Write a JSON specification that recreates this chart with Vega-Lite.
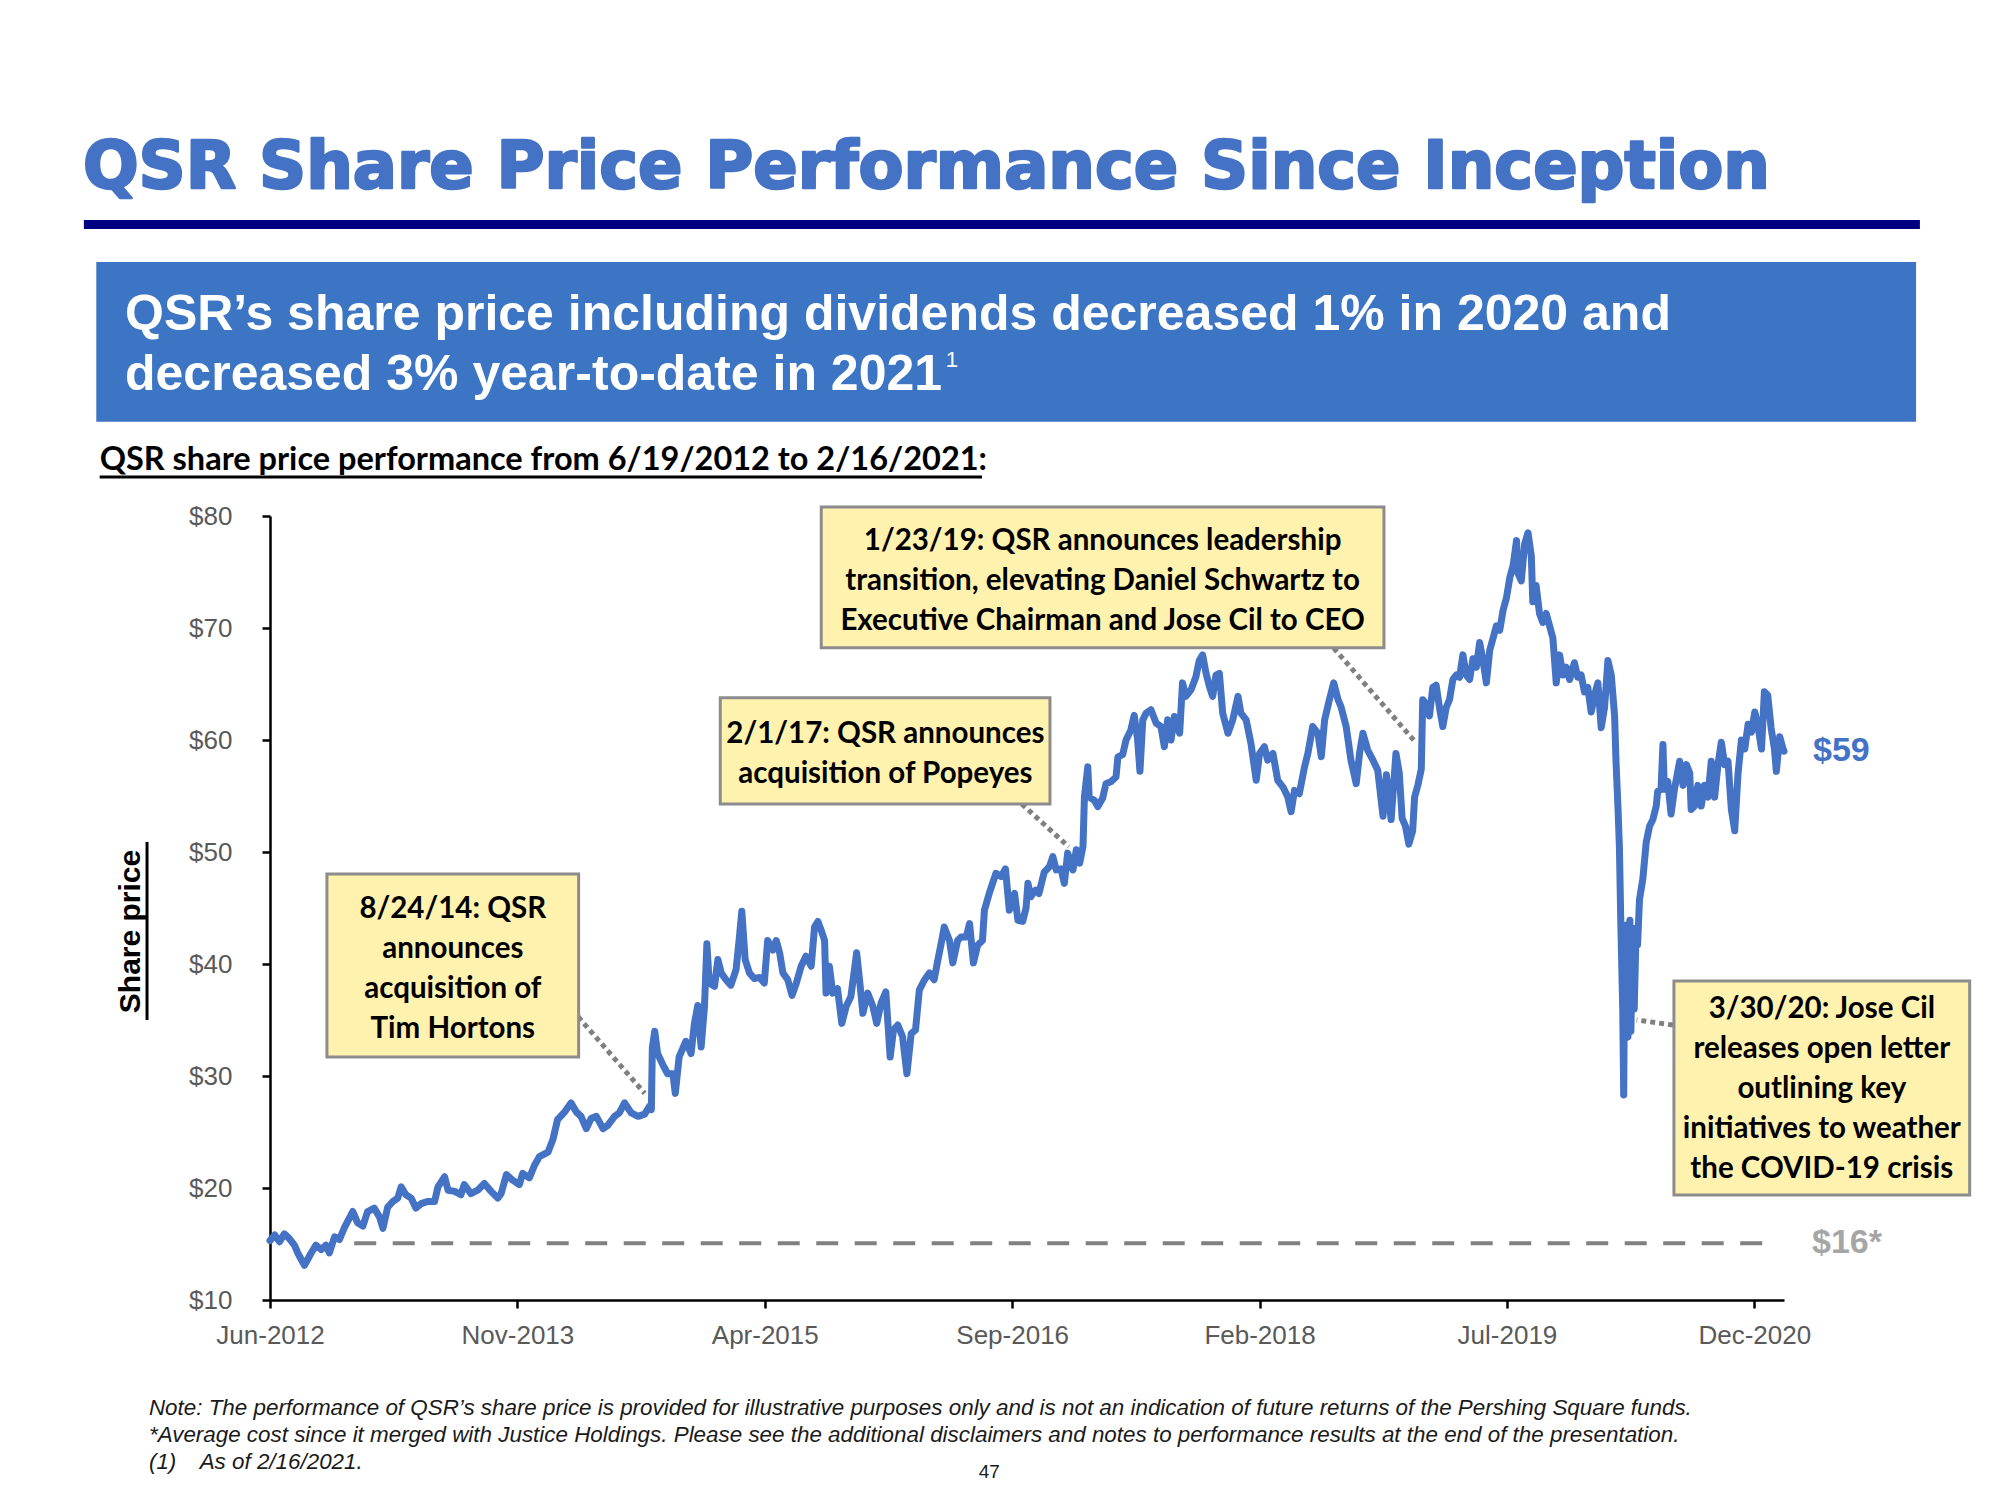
{
  "$schema": "https://vega.github.io/schema/vega-lite/v6.json",
  "width": 1514,
  "height": 784,
  "autosize": {"type": "none"},
  "padding": {"left": 270, "top": 516, "right": 216, "bottom": 200},
  "background": "white",
  "config": {"view": {"stroke": null}},
  "datasets": {
    "prices": [
      {"date": "2012-06-19", "price": 15.3}, {"date": "2012-06-29", "price": 15.8}, {"date": "2012-07-09", "price": 15.2}, {"date": "2012-07-19", "price": 15.9}, {"date": "2012-07-29", "price": 15.5}, {"date": "2012-08-09", "price": 14.9}, {"date": "2012-08-16", "price": 14.2}, {"date": "2012-08-30", "price": 13.1}, {"date": "2012-09-13", "price": 14.2}, {"date": "2012-09-23", "price": 14.9}, {"date": "2012-10-04", "price": 14.5}, {"date": "2012-10-14", "price": 14.9}, {"date": "2012-10-21", "price": 14.2}, {"date": "2012-11-01", "price": 15.65}, {"date": "2012-11-11", "price": 15.4}, {"date": "2012-11-22", "price": 16.5}, {"date": "2012-12-09", "price": 17.9}, {"date": "2012-12-19", "price": 16.9}, {"date": "2012-12-30", "price": 16.6},
      {"date": "2013-01-09", "price": 17.9}, {"date": "2013-01-23", "price": 18.2}, {"date": "2013-02-03", "price": 17.4}, {"date": "2013-02-10", "price": 16.4}, {"date": "2013-02-20", "price": 18.3}, {"date": "2013-03-03", "price": 18.8}, {"date": "2013-03-13", "price": 19.1}, {"date": "2013-03-20", "price": 20.1}, {"date": "2013-03-30", "price": 19.4}, {"date": "2013-04-10", "price": 19.1}, {"date": "2013-04-20", "price": 18.2}, {"date": "2013-05-01", "price": 18.6}, {"date": "2013-05-15", "price": 18.8}, {"date": "2013-05-29", "price": 18.8}, {"date": "2013-06-05", "price": 20.1}, {"date": "2013-06-19", "price": 21.0}, {"date": "2013-06-26", "price": 19.8}, {"date": "2013-07-10", "price": 19.7}, {"date": "2013-07-23", "price": 19.4}, {"date": "2013-07-30", "price": 20.3}, {"date": "2013-08-13", "price": 19.5}, {"date": "2013-08-27", "price": 19.8}, {"date": "2013-09-10", "price": 20.4}, {"date": "2013-09-24", "price": 19.7}, {"date": "2013-10-08", "price": 19.1}, {"date": "2013-10-15", "price": 19.5}, {"date": "2013-10-26", "price": 21.2}, {"date": "2013-11-08", "price": 20.7}, {"date": "2013-11-22", "price": 20.3}, {"date": "2013-11-29", "price": 21.3}, {"date": "2013-12-13", "price": 20.9}, {"date": "2013-12-24", "price": 22.05},
      {"date": "2014-01-03", "price": 22.8}, {"date": "2014-01-21", "price": 23.2}, {"date": "2014-01-31", "price": 24.3}, {"date": "2014-02-10", "price": 26.1}, {"date": "2014-02-25", "price": 26.8}, {"date": "2014-03-10", "price": 27.6}, {"date": "2014-03-21", "price": 26.8}, {"date": "2014-03-31", "price": 26.4}, {"date": "2014-04-11", "price": 25.3}, {"date": "2014-04-21", "price": 26.2}, {"date": "2014-05-02", "price": 26.4}, {"date": "2014-05-16", "price": 25.3}, {"date": "2014-05-26", "price": 25.6}, {"date": "2014-06-09", "price": 26.4}, {"date": "2014-06-19", "price": 26.7}, {"date": "2014-06-30", "price": 27.6}, {"date": "2014-07-14", "price": 26.7}, {"date": "2014-07-28", "price": 26.4}, {"date": "2014-08-11", "price": 26.6}, {"date": "2014-08-21", "price": 27.3}, {"date": "2014-08-25", "price": 27.0}, {"date": "2014-08-27", "price": 32.5}, {"date": "2014-09-01", "price": 34.0}, {"date": "2014-09-07", "price": 32.0}, {"date": "2014-09-18", "price": 31.0}, {"date": "2014-09-28", "price": 30.2}, {"date": "2014-10-09", "price": 30.2}, {"date": "2014-10-14", "price": 28.45}, {"date": "2014-10-22", "price": 31.7}, {"date": "2014-11-05", "price": 33.1}, {"date": "2014-11-16", "price": 32.0}, {"date": "2014-11-23", "price": 34.7}, {"date": "2014-11-30", "price": 36.3}, {"date": "2014-12-07", "price": 32.6}, {"date": "2014-12-14", "price": 36.2}, {"date": "2014-12-19", "price": 41.8}, {"date": "2014-12-24", "price": 38.3},
      {"date": "2015-01-04", "price": 38.0}, {"date": "2015-01-11", "price": 40.4}, {"date": "2015-01-18", "price": 39.2}, {"date": "2015-01-28", "price": 38.6}, {"date": "2015-02-07", "price": 38.1}, {"date": "2015-02-18", "price": 39.5}, {"date": "2015-02-25", "price": 42.4}, {"date": "2015-03-02", "price": 44.7}, {"date": "2015-03-09", "price": 40.4}, {"date": "2015-03-18", "price": 39.2}, {"date": "2015-03-28", "price": 38.7}, {"date": "2015-04-08", "price": 38.8}, {"date": "2015-04-18", "price": 38.3}, {"date": "2015-04-25", "price": 42.1}, {"date": "2015-05-06", "price": 41.25}, {"date": "2015-05-13", "price": 42.1}, {"date": "2015-05-20", "price": 41.0}, {"date": "2015-05-27", "price": 39.2}, {"date": "2015-06-06", "price": 38.6}, {"date": "2015-06-15", "price": 37.2}, {"date": "2015-06-24", "price": 38.3}, {"date": "2015-07-04", "price": 39.8}, {"date": "2015-07-14", "price": 40.7}, {"date": "2015-07-25", "price": 39.8}, {"date": "2015-08-01", "price": 43.3}, {"date": "2015-08-08", "price": 43.8}, {"date": "2015-08-15", "price": 43.0}, {"date": "2015-08-22", "price": 42.1}, {"date": "2015-08-25", "price": 37.4}, {"date": "2015-09-01", "price": 39.8}, {"date": "2015-09-08", "price": 37.4}, {"date": "2015-09-18", "price": 37.8}, {"date": "2015-09-27", "price": 34.7}, {"date": "2015-10-06", "price": 36.2}, {"date": "2015-10-16", "price": 37.1}, {"date": "2015-10-28", "price": 41.0}, {"date": "2015-11-03", "price": 38.6}, {"date": "2015-11-10", "price": 35.6}, {"date": "2015-11-20", "price": 37.4}, {"date": "2015-12-01", "price": 36.2}, {"date": "2015-12-09", "price": 34.7}, {"date": "2015-12-18", "price": 36.5}, {"date": "2015-12-28", "price": 37.5},
      {"date": "2016-01-06", "price": 31.7}, {"date": "2016-01-13", "price": 34.1}, {"date": "2016-01-22", "price": 34.55}, {"date": "2016-02-01", "price": 33.5}, {"date": "2016-02-10", "price": 30.2}, {"date": "2016-02-19", "price": 33.8}, {"date": "2016-02-28", "price": 34.1}, {"date": "2016-03-07", "price": 37.7}, {"date": "2016-03-18", "price": 38.6}, {"date": "2016-03-28", "price": 39.2}, {"date": "2016-04-07", "price": 38.6}, {"date": "2016-04-14", "price": 40.2}, {"date": "2016-04-21", "price": 41.7}, {"date": "2016-04-28", "price": 43.3}, {"date": "2016-05-09", "price": 42.1}, {"date": "2016-05-16", "price": 40.1}, {"date": "2016-05-26", "price": 42.1}, {"date": "2016-06-02", "price": 42.4}, {"date": "2016-06-13", "price": 42.4}, {"date": "2016-06-20", "price": 43.6}, {"date": "2016-06-28", "price": 40.1}, {"date": "2016-07-07", "price": 41.7}, {"date": "2016-07-17", "price": 42.1}, {"date": "2016-07-21", "price": 44.8}, {"date": "2016-07-31", "price": 46.3}, {"date": "2016-08-14", "price": 48.1}, {"date": "2016-08-25", "price": 47.8}, {"date": "2016-09-03", "price": 48.5}, {"date": "2016-09-11", "price": 44.8}, {"date": "2016-09-22", "price": 46.3}, {"date": "2016-09-29", "price": 43.9}, {"date": "2016-10-09", "price": 43.8}, {"date": "2016-10-16", "price": 45.0}, {"date": "2016-10-20", "price": 47.2}, {"date": "2016-10-26", "price": 46.0}, {"date": "2016-11-05", "price": 46.6}, {"date": "2016-11-12", "price": 46.3}, {"date": "2016-11-23", "price": 48.2}, {"date": "2016-12-04", "price": 48.7}, {"date": "2016-12-11", "price": 49.6}, {"date": "2016-12-18", "price": 48.4}, {"date": "2016-12-28", "price": 48.5},
      {"date": "2017-01-04", "price": 47.2}, {"date": "2017-01-11", "price": 49.9}, {"date": "2017-01-22", "price": 48.4}, {"date": "2017-01-29", "price": 50.2}, {"date": "2017-02-05", "price": 49.0}, {"date": "2017-02-12", "price": 50.5}, {"date": "2017-02-15", "price": 54.9}, {"date": "2017-02-22", "price": 57.6}, {"date": "2017-02-25", "price": 54.9}, {"date": "2017-03-08", "price": 54.6}, {"date": "2017-03-15", "price": 54.05}, {"date": "2017-03-25", "price": 54.8}, {"date": "2017-04-01", "price": 56.1}, {"date": "2017-04-12", "price": 56.3}, {"date": "2017-04-22", "price": 56.7}, {"date": "2017-04-26", "price": 58.5}, {"date": "2017-05-06", "price": 58.7}, {"date": "2017-05-13", "price": 60.0}, {"date": "2017-05-23", "price": 60.9}, {"date": "2017-05-30", "price": 62.2}, {"date": "2017-06-06", "price": 60.1}, {"date": "2017-06-11", "price": 57.2}, {"date": "2017-06-17", "price": 61.8}, {"date": "2017-06-24", "price": 62.4}, {"date": "2017-07-04", "price": 62.7}, {"date": "2017-07-15", "price": 61.5}, {"date": "2017-07-25", "price": 61.2}, {"date": "2017-08-01", "price": 59.4}, {"date": "2017-08-08", "price": 61.8}, {"date": "2017-08-15", "price": 60.0}, {"date": "2017-08-22", "price": 62.1}, {"date": "2017-09-02", "price": 60.6}, {"date": "2017-09-08", "price": 65.1}, {"date": "2017-09-15", "price": 63.9}, {"date": "2017-09-26", "price": 64.5}, {"date": "2017-10-06", "price": 65.65}, {"date": "2017-10-13", "price": 67.1}, {"date": "2017-10-20", "price": 67.6}, {"date": "2017-10-27", "price": 66.0}, {"date": "2017-11-03", "price": 64.8}, {"date": "2017-11-10", "price": 63.9}, {"date": "2017-11-17", "price": 65.8}, {"date": "2017-11-24", "price": 65.95}, {"date": "2017-12-01", "price": 62.4}, {"date": "2017-12-12", "price": 60.6}, {"date": "2017-12-22", "price": 61.8},
      {"date": "2018-01-02", "price": 63.9}, {"date": "2018-01-08", "price": 62.4}, {"date": "2018-01-19", "price": 61.8}, {"date": "2018-01-29", "price": 59.7}, {"date": "2018-02-09", "price": 56.4}, {"date": "2018-02-16", "price": 58.8}, {"date": "2018-02-26", "price": 59.4}, {"date": "2018-03-05", "price": 58.2}, {"date": "2018-03-16", "price": 58.8}, {"date": "2018-03-26", "price": 56.4}, {"date": "2018-04-06", "price": 55.8}, {"date": "2018-04-16", "price": 54.9}, {"date": "2018-04-23", "price": 53.6}, {"date": "2018-04-30", "price": 55.5}, {"date": "2018-05-10", "price": 55.2}, {"date": "2018-05-21", "price": 57.6}, {"date": "2018-05-28", "price": 58.8}, {"date": "2018-06-07", "price": 61.2}, {"date": "2018-06-18", "price": 60.6}, {"date": "2018-06-25", "price": 58.5}, {"date": "2018-07-02", "price": 61.8}, {"date": "2018-07-12", "price": 63.6}, {"date": "2018-07-21", "price": 65.1}, {"date": "2018-07-30", "price": 63.6}, {"date": "2018-08-05", "price": 63.0}, {"date": "2018-08-16", "price": 61.2}, {"date": "2018-08-26", "price": 58.2}, {"date": "2018-09-06", "price": 56.1}, {"date": "2018-09-13", "price": 58.8}, {"date": "2018-09-20", "price": 60.6}, {"date": "2018-09-30", "price": 59.1}, {"date": "2018-10-11", "price": 58.2}, {"date": "2018-10-21", "price": 57.3}, {"date": "2018-11-01", "price": 53.2}, {"date": "2018-11-08", "price": 56.9}, {"date": "2018-11-18", "price": 52.9}, {"date": "2018-11-28", "price": 58.8}, {"date": "2018-12-05", "price": 57.05}, {"date": "2018-12-11", "price": 53.0}, {"date": "2018-12-18", "price": 52.3}, {"date": "2018-12-25", "price": 50.7},
      {"date": "2019-01-02", "price": 51.9}, {"date": "2019-01-06", "price": 54.9}, {"date": "2019-01-13", "price": 56.0}, {"date": "2019-01-20", "price": 57.4}, {"date": "2019-01-23", "price": 63.6}, {"date": "2019-01-30", "price": 63.2}, {"date": "2019-02-06", "price": 62.15}, {"date": "2019-02-13", "price": 64.7}, {"date": "2019-02-20", "price": 64.9}, {"date": "2019-02-27", "price": 62.9}, {"date": "2019-03-06", "price": 61.2}, {"date": "2019-03-13", "price": 62.9}, {"date": "2019-03-20", "price": 63.6}, {"date": "2019-03-27", "price": 65.4}, {"date": "2019-04-03", "price": 65.8}, {"date": "2019-04-10", "price": 65.6}, {"date": "2019-04-17", "price": 67.6}, {"date": "2019-04-24", "price": 65.8}, {"date": "2019-05-01", "price": 65.4}, {"date": "2019-05-08", "price": 67.25}, {"date": "2019-05-15", "price": 66.5}, {"date": "2019-05-22", "price": 68.7}, {"date": "2019-05-29", "price": 67.1}, {"date": "2019-06-05", "price": 65.1}, {"date": "2019-06-12", "price": 68.0}, {"date": "2019-06-19", "price": 69.1}, {"date": "2019-06-26", "price": 70.2}, {"date": "2019-07-03", "price": 69.8}, {"date": "2019-07-10", "price": 71.6}, {"date": "2019-07-17", "price": 72.7}, {"date": "2019-07-24", "price": 74.5}, {"date": "2019-07-31", "price": 75.6}, {"date": "2019-08-07", "price": 77.8}, {"date": "2019-08-10", "price": 74.9}, {"date": "2019-08-17", "price": 74.2}, {"date": "2019-08-24", "price": 77.5}, {"date": "2019-08-31", "price": 78.5}, {"date": "2019-09-07", "price": 76.4}, {"date": "2019-09-10", "price": 72.35}, {"date": "2019-09-17", "price": 73.8}, {"date": "2019-09-24", "price": 71.3}, {"date": "2019-10-01", "price": 70.5}, {"date": "2019-10-08", "price": 71.3}, {"date": "2019-10-15", "price": 70.2}, {"date": "2019-10-22", "price": 69.1}, {"date": "2019-10-29", "price": 65.1}, {"date": "2019-11-05", "price": 67.6}, {"date": "2019-11-12", "price": 65.8}, {"date": "2019-11-19", "price": 66.5}, {"date": "2019-11-26", "price": 65.4}, {"date": "2019-12-06", "price": 66.9}, {"date": "2019-12-13", "price": 65.6}, {"date": "2019-12-20", "price": 65.8}, {"date": "2019-12-27", "price": 64.3},
      {"date": "2020-01-03", "price": 64.7}, {"date": "2020-01-10", "price": 62.5}, {"date": "2020-01-17", "price": 64.0}, {"date": "2020-01-24", "price": 65.1}, {"date": "2020-01-31", "price": 61.1}, {"date": "2020-02-07", "price": 62.9}, {"date": "2020-02-14", "price": 67.1}, {"date": "2020-02-21", "price": 65.8}, {"date": "2020-02-28", "price": 62.15}, {"date": "2020-03-02", "price": 58.0}, {"date": "2020-03-06", "price": 54.0}, {"date": "2020-03-09", "price": 50.5}, {"date": "2020-03-12", "price": 43.6}, {"date": "2020-03-16", "price": 35.9}, {"date": "2020-03-18", "price": 28.3}, {"date": "2020-03-20", "price": 40.0}, {"date": "2020-03-23", "price": 33.4}, {"date": "2020-03-25", "price": 43.5}, {"date": "2020-03-27", "price": 33.5}, {"date": "2020-03-31", "price": 43.9}, {"date": "2020-04-02", "price": 34.0}, {"date": "2020-04-06", "price": 43.2}, {"date": "2020-04-09", "price": 36.0}, {"date": "2020-04-13", "price": 43.2}, {"date": "2020-04-16", "price": 41.7}, {"date": "2020-04-20", "price": 45.75}, {"date": "2020-04-27", "price": 47.6}, {"date": "2020-05-04", "price": 50.85}, {"date": "2020-05-11", "price": 52.3}, {"date": "2020-05-18", "price": 52.9}, {"date": "2020-05-25", "price": 54.1}, {"date": "2020-05-28", "price": 55.4}, {"date": "2020-06-04", "price": 55.6}, {"date": "2020-06-08", "price": 59.6}, {"date": "2020-06-11", "price": 55.6}, {"date": "2020-06-18", "price": 56.3}, {"date": "2020-06-25", "price": 53.4}, {"date": "2020-07-02", "price": 55.6}, {"date": "2020-07-13", "price": 58.1}, {"date": "2020-07-20", "price": 55.95}, {"date": "2020-07-27", "price": 57.8}, {"date": "2020-08-03", "price": 57.05}, {"date": "2020-08-06", "price": 53.8}, {"date": "2020-08-13", "price": 54.1}, {"date": "2020-08-20", "price": 55.95}, {"date": "2020-08-27", "price": 54.1}, {"date": "2020-09-03", "price": 55.95}, {"date": "2020-09-10", "price": 54.9}, {"date": "2020-09-17", "price": 58.1}, {"date": "2020-09-24", "price": 54.9}, {"date": "2020-10-01", "price": 57.8}, {"date": "2020-10-08", "price": 59.8}, {"date": "2020-10-15", "price": 57.8}, {"date": "2020-10-22", "price": 58.1}, {"date": "2020-10-29", "price": 53.8}, {"date": "2020-11-05", "price": 51.9}, {"date": "2020-11-12", "price": 57.05}, {"date": "2020-11-19", "price": 60.0}, {"date": "2020-11-26", "price": 59.2}, {"date": "2020-12-03", "price": 61.4}, {"date": "2020-12-10", "price": 60.7}, {"date": "2020-12-17", "price": 62.5}, {"date": "2020-12-24", "price": 61.1}, {"date": "2020-12-31", "price": 59.2},
      {"date": "2021-01-06", "price": 64.3}, {"date": "2021-01-13", "price": 64.0}, {"date": "2021-01-20", "price": 61.1}, {"date": "2021-01-27", "price": 59.2}, {"date": "2021-01-31", "price": 57.2}, {"date": "2021-02-07", "price": 60.3}, {"date": "2021-02-14", "price": 59.2}, {"date": "2021-02-16", "price": 59.0}
    ],
    "titleText": [{"date": "2011-05-25", "price": 109.29, "text": "QSR Share Price Performance Since Inception"}],
    "headerRule": [{"date": "2011-05-27", "date2": "2021-11-27", "price": 106.03}],
    "headerBox": [{"date": "2011-06-22", "date2": "2021-11-19", "price": 88.42, "price2": 102.68}],
    "headerText": [
      {"date": "2011-08-21", "price": 96.61, "text": "QSR’s share price including dividends decreased 1% in 2020 and"},
      {"date": "2011-08-21", "price": 91.25, "text": "decreased 3% year-to-date in 2021"}
    ],
    "headerSup": [{"date": "2016-05-01", "price": 93.3, "text": "1"}],
    "subtitle": [{"date": "2011-06-29", "price": 84.1, "text": "QSR share price performance from 6/19/2012 to 2/16/2021:"}],
    "underlines": [{"date": "2011-06-29", "date2": "2016-07-16", "price": 83.48}],
    "axisUnderline": [{"date": "2011-10-06", "price": 35.0, "price2": 50.9}],
    "notes": [
      {"date": "2011-10-10", "price": -0.27, "text": "Note: The performance of QSR’s share price is provided for illustrative purposes only and is not an indication of future returns of the Pershing Square funds."},
      {"date": "2011-10-10", "price": -2.68, "text": "*Average cost since it merged with Justice Holdings. Please see the additional disclaimers and notes to performance results at the end of the presentation."},
      {"date": "2011-10-10", "price": -5.09, "text": "(1)"},
      {"date": "2012-01-24", "price": -5.09, "text": "As of 2/16/2021."}
    ],
    "page": [{"date": "2016-07-31", "price": -5.89, "text": "47"}],
    "avgCost": [{"date": "2012-12-12", "date2": "2021-01-28", "price": 15.06}],
    "boxes": [
      {"date": "2012-10-16", "date2": "2014-03-26", "price": 31.70, "price2": 48.04},
      {"date": "2015-01-16", "date2": "2016-12-05", "price": 54.29, "price2": 63.78},
      {"date": "2015-08-15", "date2": "2018-11-03", "price": 68.24, "price2": 80.80},
      {"date": "2020-07-01", "date2": "2022-03-11", "price": 19.38, "price2": 38.48}
    ],
    "leaders": [
      {"date": "2014-03-25", "date2": "2014-08-11", "price": 35.29, "price2": 28.45},
      {"date": "2016-10-07", "date2": "2017-01-13", "price": 54.29, "price2": 50.47},
      {"date": "2018-07-21", "date2": "2019-01-07", "price": 68.21, "price2": 59.85},
      {"date": "2020-06-29", "date2": "2020-04-14", "price": 34.55, "price2": 35.0}
    ],
    "callouts": [
      {"date": "2013-07-06", "price": 44.11, "text": "8/24/14: QSR\nannounces\nacquisition of\nTim Hortons"},
      {"date": "2015-12-27", "price": 59.76, "text": "2/1/17: QSR announces\nacquisition of Popeyes"},
      {"date": "2017-03-25", "price": 76.96, "text": "1/23/19: QSR announces leadership\ntransition, elevating Daniel Schwartz to\nExecutive Chairman and Jose Cil to CEO"},
      {"date": "2021-05-06", "price": 35.15, "text": "3/30/20: Jose Cil\nreleases open letter\noutlining key\ninitiatives to weather\nthe COVID-19 crisis"}
    ],
    "lastLabel": [{"date": "2021-02-16", "price": 59.0, "text": "$59"}],
    "costLabel": [{"date": "2021-02-16", "price": 15.06, "text": "$16*"}]
  },
  "encoding": {
    "x": {
      "field": "date", "type": "temporal",
      "scale": {"domain": [{"year": 2012, "month": 6, "date": 19, "utc": true}, {"year": 2021, "month": 2, "date": 16, "utc": true}], "nice": false},
      "axis": {
        "title": null, "grid": false, "format": "%b-%Y", "labelAngle": 0, "labelFlush": false, "labelOverlap": false,
        "values": [
          {"year": 2012, "month": 6, "date": 19, "utc": true},
          {"year": 2013, "month": 11, "date": 18, "utc": true},
          {"year": 2015, "month": 4, "date": 19, "utc": true},
          {"year": 2016, "month": 9, "date": 17, "utc": true},
          {"year": 2018, "month": 2, "date": 16, "utc": true},
          {"year": 2019, "month": 7, "date": 18, "utc": true},
          {"year": 2020, "month": 12, "date": 16, "utc": true}
        ],
        "labelFont": "Liberation Sans", "labelFontSize": 26, "labelColor": "#595959", "labelPadding": 14,
        "tickColor": "black", "tickWidth": 2.5, "tickSize": 8, "domainColor": "black", "domainWidth": 2.5
      }
    },
    "y": {
      "field": "price", "type": "quantitative",
      "scale": {"domain": [10, 80], "nice": false, "zero": false},
      "axis": {
        "values": [10, 20, 30, 40, 50, 60, 70, 80], "labelExpr": "'$' + datum.value", "grid": false, "labelFlush": false,
        "labelFont": "Liberation Sans", "labelFontSize": 26, "labelColor": "#595959", "labelPadding": 30,
        "tickColor": "black", "tickWidth": 2.5, "tickSize": 8, "domainColor": "black", "domainWidth": 2.5,
        "title": "Share price", "titleFont": "Liberation Sans", "titleFontSize": 30, "titleFontWeight": "bold", "titleColor": "black",
        "titleAngle": 270, "titleX": -140, "titleY": 415, "titleAlign": "center", "titleBaseline": "middle"
      }
    }
  },
  "layer": [
    {"data": {"name": "titleText"}, "mark": {"type": "text", "align": "left", "baseline": "alphabetic", "font": "DejaVu Sans", "fontWeight": "bold", "fontSize": 65.5, "color": "#4472C4", "stroke": "#4472C4", "strokeWidth": 2.5, "strokeJoin": "round"}, "encoding": {"text": {"field": "text"}}},
    {"data": {"name": "headerRule"}, "mark": {"type": "rule", "color": "#000080", "strokeWidth": 9}, "encoding": {"x2": {"field": "date2"}}},
    {"data": {"name": "headerBox"}, "mark": {"type": "rect", "color": "#3B75C4"}, "encoding": {"x2": {"field": "date2"}, "y2": {"field": "price2"}}},
    {"data": {"name": "headerText"}, "mark": {"type": "text", "align": "left", "baseline": "alphabetic", "font": "Liberation Sans", "fontWeight": "bold", "fontSize": 50, "color": "white"}, "encoding": {"text": {"field": "text"}}},
    {"data": {"name": "headerSup"}, "mark": {"type": "text", "align": "left", "baseline": "alphabetic", "font": "Liberation Sans", "fontSize": 22, "color": "white"}, "encoding": {"text": {"field": "text"}}},
    {"data": {"name": "subtitle"}, "mark": {"type": "text", "align": "left", "baseline": "alphabetic", "font": "Lato", "fontWeight": "bold", "fontSize": 32.5, "color": "black"}, "encoding": {"text": {"field": "text"}}},
    {"data": {"name": "underlines"}, "mark": {"type": "rule", "color": "black", "strokeWidth": 3}, "encoding": {"x2": {"field": "date2"}}},
    {"data": {"name": "axisUnderline"}, "mark": {"type": "rule", "color": "black", "strokeWidth": 3}, "encoding": {"y2": {"field": "price2"}}},
    {"data": {"name": "notes"}, "mark": {"type": "text", "align": "left", "baseline": "alphabetic", "font": "Liberation Sans", "fontStyle": "italic", "fontSize": 22.4, "color": "#1a1a1a"}, "encoding": {"text": {"field": "text"}}},
    {"data": {"name": "page"}, "mark": {"type": "text", "align": "center", "baseline": "alphabetic", "font": "Liberation Sans", "fontSize": 19, "color": "#1a1a1a"}, "encoding": {"text": {"field": "text"}}},
    {"data": {"name": "avgCost"}, "mark": {"type": "rule", "color": "#808080", "strokeWidth": 4, "strokeDash": [22, 16.5]}, "encoding": {"x2": {"field": "date2"}}},
    {"data": {"name": "leaders"}, "mark": {"type": "rule", "color": "#808080", "strokeWidth": 5, "strokeDash": [5, 4]}, "encoding": {"x2": {"field": "date2"}, "y2": {"field": "price2"}}},
    {"data": {"name": "prices"}, "mark": {"type": "line", "color": "#4472C4", "strokeWidth": 7, "strokeJoin": "round", "strokeCap": "round"}, "encoding": {}},
    {"data": {"name": "boxes"}, "mark": {"type": "rect", "fill": "#FFF2AE", "stroke": "#8C8C8C", "strokeWidth": 3}, "encoding": {"x2": {"field": "date2"}, "y2": {"field": "price2"}}},
    {"data": {"name": "callouts"}, "mark": {"type": "text", "align": "center", "baseline": "alphabetic", "lineBreak": "\n", "lineHeight": 40, "font": "Lato", "fontWeight": "bold", "fontSize": 29.5, "color": "black"}, "encoding": {"text": {"field": "text"}}},
    {"data": {"name": "lastLabel"}, "mark": {"type": "text", "align": "left", "baseline": "middle", "dx": 29, "font": "Liberation Sans", "fontWeight": "bold", "fontSize": 34, "color": "#4472C4"}, "encoding": {"text": {"field": "text"}}},
    {"data": {"name": "costLabel"}, "mark": {"type": "text", "align": "left", "baseline": "middle", "dx": 28, "font": "Liberation Sans", "fontWeight": "bold", "fontSize": 34, "color": "#A6A6A6"}, "encoding": {"text": {"field": "text"}}}
  ]
}
